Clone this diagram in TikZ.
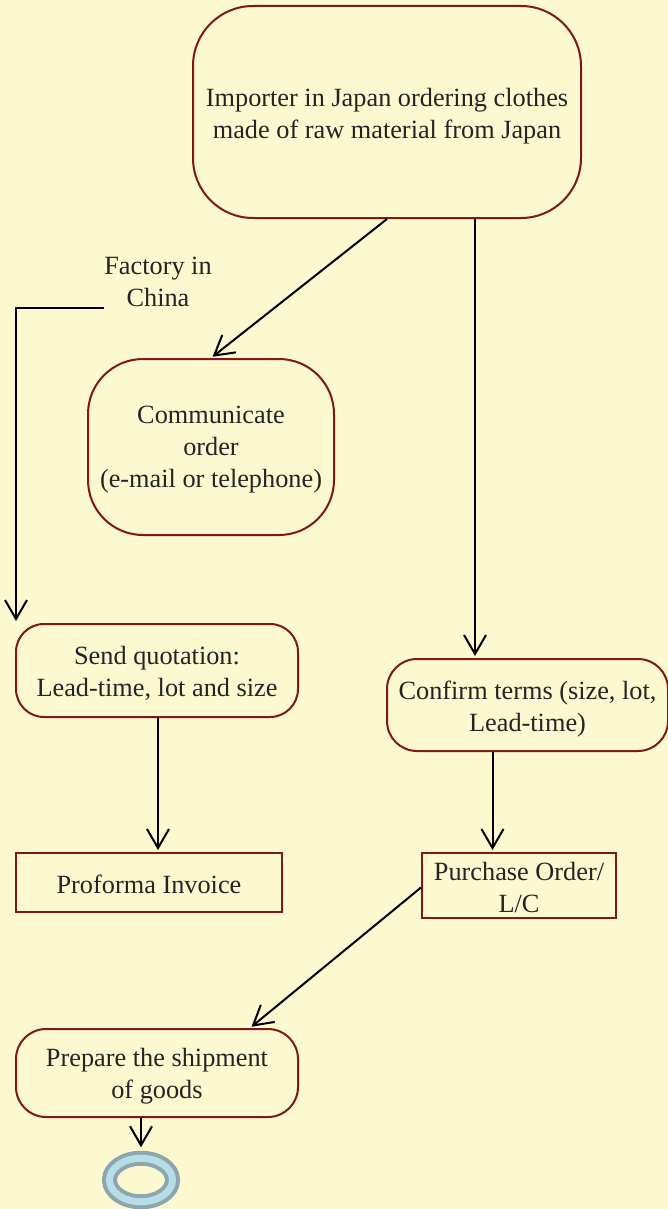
\documentclass[tikz,border=0pt]{standalone}
\usepackage{fontspec}
\setmainfont{Liberation Serif}
\usetikzlibrary{arrows.meta,shapes.geometric}
\definecolor{bg}{RGB}{252,248,208}
\definecolor{bord}{RGB}{128,24,24}
\definecolor{txt}{RGB}{36,36,36}
\definecolor{ringout}{RGB}{140,165,174}
\definecolor{ringin}{RGB}{183,221,230}
\tikzset{
  box/.style={draw=bord, line width=2pt, fill=bg, inner sep=0pt},
  rbox/.style={box, rounded corners=#1},
  lbl/.style={text=txt, align=center, inner sep=0pt, font=\fontsize{26.3}{32}\selectfont},
  arr/.style={draw=black, line width=2pt, -{Straight Barb[length=19pt,width=22pt,line width=2pt]}, shorten >=2pt}
}
\begin{document}
\begin{tikzpicture}[x=1pt,y=-1pt]
\fill[bg] (0,0) rectangle (668,1209);
\useasboundingbox (0,0) rectangle (668,1209);

\node[rbox=60pt, minimum width=388pt, minimum height=212pt] (top) at (387,112) {};
\node[lbl] (topt) at (387,116) {Importer in Japan ordering clothes\\made of raw material from Japan};
\node[rbox=55pt, minimum width=246pt, minimum height=176pt] (comm) at (211,447) {};
\node[lbl] (commt) at (211,450) {Communicate\\order\\(e-mail or telephone)};
\node[rbox=28pt, minimum width=282pt, minimum height=93pt] (send) at (157,670.5) {};
\node[lbl] (sendt) at (157,673) {Send quotation:\\Lead-time, lot and size};
\node[box, minimum width=266pt, minimum height=59pt] (prof) at (149,882.5) {};
\node[lbl] (proft) at (149,884) {Proforma Invoice};
\node[rbox=30pt, minimum width=281pt, minimum height=92pt] (conf) at (527.5,705) {};
\node[lbl] (conft) at (527.5,709) {Confirm terms (size, lot,\\Lead-time)};
\node[box, minimum width=194pt, minimum height=65pt] (po) at (519,885.5) {};
\node[lbl] (pot) at (519,887) {Purchase Order/\\L/C};
\node[rbox=30pt, minimum width=282pt, minimum height=88pt] (prep) at (157,1073) {};
\node[lbl] (prept) at (157,1076) {Prepare the shipment\\of goods};
\node[lbl] (fac) at (158,282) {Factory in\\China};
\node[ellipse, draw=ringout, line width=4pt, double=ringin, double distance=7pt,
  minimum width=63pt, minimum height=43.5pt, inner sep=0pt] (ring) at (141,1180) {};

\draw[arr] (top.south) -- (comm.north);
\draw[arr] ([xshift=88pt]top.south) -- ([xshift=88pt]top.south |- conf.north);
\coordinate (facend) at ([yshift=-1pt]fac.south west);
\draw[arr] (facend) -| ([xshift=1pt]send.north west);
\draw[arr] ([xshift=1pt]send.south) -- ([xshift=1pt]send.south |- prof.north);
\draw[arr] ([xshift=-35pt]conf.south) -- ([xshift=-35pt]conf.south |- po.north);
\draw[arr] ([yshift=-2pt]po.west) -- ([xshift=93pt]prep.north);
\draw[arr] (prep.south -| ring.north) -- ([yshift=7pt]ring.north);
\end{tikzpicture}
\end{document}
